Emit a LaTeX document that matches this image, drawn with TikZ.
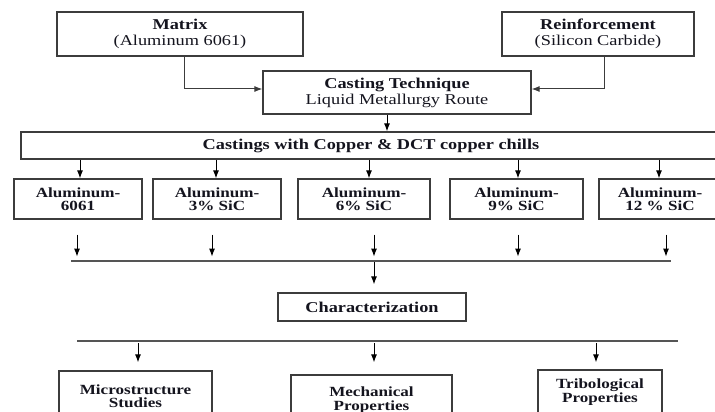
\documentclass[tikz,border=0pt]{standalone}
\usepackage{fontspec}
\setmainfont{Liberation Serif}[FakeStretch=1.22]
\usetikzlibrary{arrows.meta}
\definecolor{boxc}{RGB}{60,60,60}
\definecolor{linec}{RGB}{85,85,85}
\definecolor{txtc}{RGB}{20,20,30}
\begin{document}
\begin{tikzpicture}[x=1pt,y=-1pt,
  box/.style={draw=boxc, line width=1.2pt, fill=white, align=center, inner sep=0pt, text=txtc, font=\fontsize{15}{16}\selectfont},
  midbox/.style={box, minimum height=40, font=\bfseries\fontsize{14}{13.5}\selectfont},
  lowbox/.style={box, font=\bfseries\fontsize{14}{13.5}\selectfont},
  arr/.style={-{Latex[length=8pt,width=6pt]}, line width=1pt, draw=black},
  hline/.style={line width=1.1pt, draw=linec}]
\useasboundingbox (0,0) rectangle (715,412);
\clip (0,0) rectangle (715,412);

\node[box, minimum width=246, minimum height=44] (matrix) at (180,34) {\textbf{Matrix}\\(Aluminum 6061)};
\node[box, minimum width=192, minimum height=44] (reinf) at (598,34) {\textbf{Reinforcement}\\(Silicon Carbide)};
\node[box, minimum width=268, minimum height=43] (casting) at (397,92.5) {\textbf{Casting Technique}\\Liquid Metallurgy Route};
\node[box, minimum width=700, minimum height=27] (castings) at (371,145.5) {\textbf{Castings with Copper \& DCT copper chills}};

\node[midbox, minimum width=128] (a1) at (78,199) {Aluminum-\\6061};
\node[midbox, minimum width=128] (a2) at (217,199) {Aluminum-\\3\% SiC};
\node[midbox, minimum width=132] (a3) at (364,199) {Aluminum-\\6\% SiC};
\node[midbox, minimum width=133] (a4) at (516.5,199) {Aluminum-\\9\% SiC};
\node[midbox, minimum width=122] (a5) at (660,199) {Aluminum-\\12 \% SiC};

\node[box, minimum width=188, minimum height=28, font=\bfseries\fontsize{15}{16}\selectfont] (char) at (372,307) {Characterization};

\node[lowbox, minimum width=153, minimum height=50] (micro) at (135.5,396) {Microstructure\\Studies};
\node[lowbox, minimum width=161, minimum height=50] (mech) at (371.5,400) {Mechanical\\Properties};
\node[lowbox, minimum width=124, minimum height=44] (trib) at (600,392) {Tribological\\Properties};

% top connectors
\draw[arr, draw=boxc] ([xshift=4pt]matrix.south) |- ([yshift=3.5pt]casting.west);
\draw[arr, draw=boxc] ([xshift=6pt]reinf.south) |- ([yshift=3.5pt]casting.east);
\draw[arr] ([xshift=-10pt]casting.south) -- ([xshift=-10pt]casting.south |- castings.north);

% castings to alloys
\foreach \n/\dx in {a1/2, a2/-1, a3/5, a4/1.5, a5/-1}
  \draw[arr] ([xshift=\dx pt]castings.south -| \n) -- ([xshift=\dx pt]\n.north);

% alloys to collecting line
\foreach \n/\dx in {a1/-1, a2/-5, a3/10, a4/1.5, a5/6}
  \draw[arr] ([xshift=\dx pt, yshift=-15pt]\n.south) -- ++(0,22);

\coordinate (l1a) at (71,261);
\coordinate (l1b) at (671,261);
\draw[hline] (l1a) -- (l1b);
\draw[arr] ([xshift=2pt,yshift=30pt]char.north) -- ([xshift=2pt,yshift=8pt]char.north);

\coordinate (l2a) at (77,341);
\coordinate (l2b) at (678,341);
\draw[hline] (l2a) -- (l2b);
\draw[arr] ([xshift=2.5pt,yshift=27pt]micro.north) -- ([xshift=2.5pt,yshift=8pt]micro.north);
\draw[arr] ([xshift=2.5pt,yshift=31pt]mech.north) -- ([xshift=2.5pt,yshift=12pt]mech.north);
\draw[arr] ([xshift=-4pt,yshift=26pt]trib.north) -- ([xshift=-4pt,yshift=7pt]trib.north);
\end{tikzpicture}
\end{document}
